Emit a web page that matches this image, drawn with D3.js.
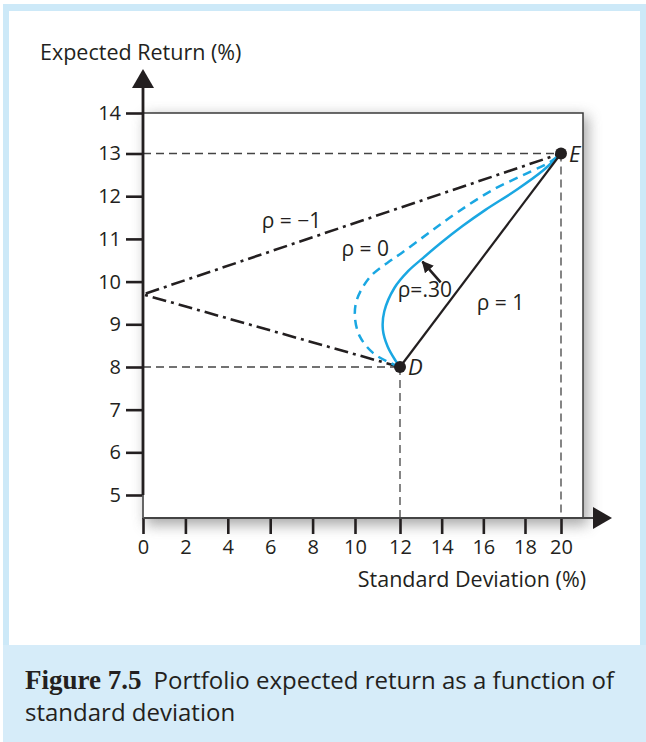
<!DOCTYPE html>
<html><head><meta charset="utf-8">
<script src="https://cdn.jsdelivr.net/npm/d3@7/dist/d3.min.js"></script>
<style>body{margin:0;background:#fff}svg{display:block}text{font-family:"Open Sans","Noto Sans",sans-serif;fill:#231f20}</style>
</head><body><svg id="c" width="646" height="742"></svg>
<script>
// ---- data ----
const xTicks = [0,2,4,6,8,10,12,14,16,18,20];
const yTicks = [5,6,7,8,9,10,11,12,13,14];
const assetD = {sd:12, er:8, name:"D"};
const assetE = {sd:20, er:13, name:"E"};
// rho = 1 (straight line D -> E)
const rho1 = [[12,8],[20,13]];
// rho = -1 (touches zero risk)
const rhoMinus1 = [[12,8],[0,9.7],[20,13]];
// rho = 0 (dashed blue)
const rho0sd = [12,11.47,10.8,10.22,10.0,10.08,10.67,11.63,12.08,13.44,14.78,16.46,18.28,19.39,20];
const rho0er = [8,8.12,8.33,8.71,9.15,9.57,10.11,10.51,10.67,11.16,11.63,12.15,12.57,12.80,13];
// rho = .30 (solid blue)
const rho30sd = [12,11.8,11.45,11.24,11.3,11.75,12.4,13.1,14.0,15.0,16.1,17.6,19.0,20];
const rho30er = [8,8.15,8.48,8.87,9.3,9.85,10.25,10.55,10.92,11.3,11.68,12.15,12.6,13];
const labels = [
  {t:"ρ = −1", sd:5.6, er:11.25},
  {t:"ρ = 0", sd:9.36, er:10.6},
  {t:"ρ=.30", sd:11.9, er:9.64},
  {t:"ρ = 1", sd:15.68, er:9.33}
];
const xTitle = "Standard Deviation (%)";
const yTitle = "Expected Return (%)";

// ---- drawing ----
const svg = d3.select("#c");
const x = d3.scaleLinear().domain([0,10,12,18,20]).range([143,355,400,525,561]);
const y = d3.scaleLinear().domain([5,8,13,14]).range([495,367,153.5,113]);
const x0 = 143, yAxisY = 518, boxRight = 583, boxTop = y(14);

// frame
svg.append("rect").attr("x",3).attr("y",4).attr("width",643).attr("height",738).attr("fill","#cde9f8");
svg.append("rect").attr("x",9).attr("y",11).attr("width",631).attr("height",634).attr("fill","#fff");
svg.append("rect").attr("x",3).attr("y",645).attr("width",643).attr("height",97).attr("fill","#d6ecf9");

const defs = svg.append("defs");
const f = defs.append("filter").attr("id","sh").attr("x","-20%").attr("y","-20%").attr("width","140%").attr("height","140%");
f.append("feGaussianBlur").attr("stdDeviation",7);
svg.append("rect").attr("x",x0+3).attr("y",boxTop+3).attr("width",boxRight-x0+2).attr("height",yAxisY-boxTop+4)
  .attr("fill","#8a8a8a").attr("opacity",0.75).attr("filter","url(#sh)");
svg.append("rect").attr("x",x0).attr("y",boxTop).attr("width",boxRight-x0).attr("height",yAxisY-boxTop)
  .attr("fill","#fff").attr("stroke","#3a3a3a").attr("stroke-width",1.5);

// reference dashed lines
const g = svg.append("g");
const dash = (x1,y1,x2,y2)=>g.append("line").attr("x1",x1).attr("y1",y1).attr("x2",x2).attr("y2",y2)
  .attr("stroke","#444").attr("stroke-width",1.3).attr("stroke-dasharray","8,5");
dash(x0,y(assetE.er),x(assetE.sd),y(assetE.er));
dash(x(assetE.sd),y(assetE.er),x(assetE.sd),yAxisY);
dash(x0,y(assetD.er),x(assetD.sd),y(assetD.er));
dash(x(assetD.sd),y(assetD.er),x(assetD.sd),yAxisY);

const line = d3.line().x(d=>x(d[0])).y(d=>y(d[1]));
const curve = d3.line().x(d=>x(d[0])).y(d=>y(d[1])).curve(d3.curveCatmullRom.alpha(0.5));

g.append("path").attr("d",line(rhoMinus1)).attr("fill","none").attr("stroke","#231f20")
  .attr("stroke-width",2.6).attr("stroke-dasharray","14,5,3,5");
g.append("path").attr("d",curve(d3.zip(rho0sd,rho0er))).attr("fill","none").attr("stroke","#1aa7e2")
  .attr("stroke-width",2.5).attr("stroke-dasharray","9,6");
g.append("path").attr("d",curve(d3.zip(rho30sd,rho30er))).attr("fill","none").attr("stroke","#1aa7e2")
  .attr("stroke-width",2.5);
g.append("path").attr("d",line(rho1)).attr("fill","none").attr("stroke","#231f20").attr("stroke-width",2.2);

// arrow pointing to rho=.30
defs.append("marker").attr("id","ah").attr("viewBox","0 0 10 10").attr("refX",9).attr("refY",5)
  .attr("markerWidth",4.5).attr("markerHeight",4.5).attr("orient","auto")
  .append("path").attr("d","M0,0L10,5L0,10z").attr("fill","#231f20");
g.append("line").attr("x1",x(13.95)).attr("y1",y(9.98)).attr("x2",x(13.08)).attr("y2",y(10.47))
  .attr("stroke","#231f20").attr("stroke-width",2.6).attr("marker-end","url(#ah)");

// points
[assetD,assetE].forEach(p=>{
  g.append("circle").attr("cx",x(p.sd)).attr("cy",y(p.er)).attr("r",6).attr("fill","#231f20");
  g.append("text").attr("x",x(p.sd)+8).attr("y",y(p.er)+8).attr("font-size",22).attr("font-style","italic").text(p.name);
});

// curve labels
labels.forEach(l=>g.append("text").attr("x",x(l.sd)).attr("y",y(l.er)).attr("font-size",21).text(l.t));

// axes
const ya = svg.append("g").attr("transform",`translate(${x0},0)`)
  .call(d3.axisLeft(y).tickValues(yTicks).tickSize(17).tickPadding(5));
ya.select(".domain").remove();
ya.selectAll(".tick line").attr("stroke","#231f20").attr("stroke-width",2.6);
ya.selectAll(".tick text").attr("font-size",20).attr("font-family","'Open Sans',sans-serif").attr("fill","#231f20");

const xa = svg.append("g").attr("transform",`translate(0,${yAxisY})`)
  .call(d3.axisBottom(x).tickValues(xTicks).tickSize(16).tickPadding(6));
xa.select(".domain").remove();
xa.selectAll(".tick line").attr("stroke","#231f20").attr("stroke-width",2.6);
xa.selectAll(".tick text").attr("font-size",20).attr("font-family","'Open Sans',sans-serif").attr("fill","#231f20");

// axis lines with arrows
svg.append("line").attr("x1",x0).attr("y1",yAxisY).attr("x2",594).attr("y2",yAxisY).attr("stroke","#444").attr("stroke-width",2);
svg.append("path").attr("d",`M593,507L612,${yAxisY}L593,529Z`).attr("fill","#231f20");
svg.append("line").attr("x1",x0).attr("y1",y(5)).attr("x2",x0).attr("y2",yAxisY).attr("stroke","#666").attr("stroke-width",1.5);
svg.append("line").attr("x1",x0).attr("y1",88).attr("x2",x0).attr("y2",y(5)).attr("stroke","#231f20").attr("stroke-width",2.8);
svg.append("path").attr("d",`M132,88L${x0},69L154,88Z`).attr("fill","#231f20");

svg.append("text").attr("x",40).attr("y",60).attr("font-size",21.5).text(yTitle);
svg.append("text").attr("x",586).attr("y",587).attr("text-anchor","end").attr("font-size",21.5).text(xTitle);

// caption
const cap = svg.append("text").attr("x",25).attr("y",689).attr("font-size",24);
cap.append("tspan").attr("font-family","'Liberation Serif','Times New Roman',serif").attr("font-weight","bold").attr("font-size",27).text("Figure 7.5");
cap.append("tspan").attr("dx",12).text("Portfolio expected return as a function of");
svg.append("text").attr("x",25).attr("y",721).attr("font-size",24).text("standard deviation");
</script></body></html>
